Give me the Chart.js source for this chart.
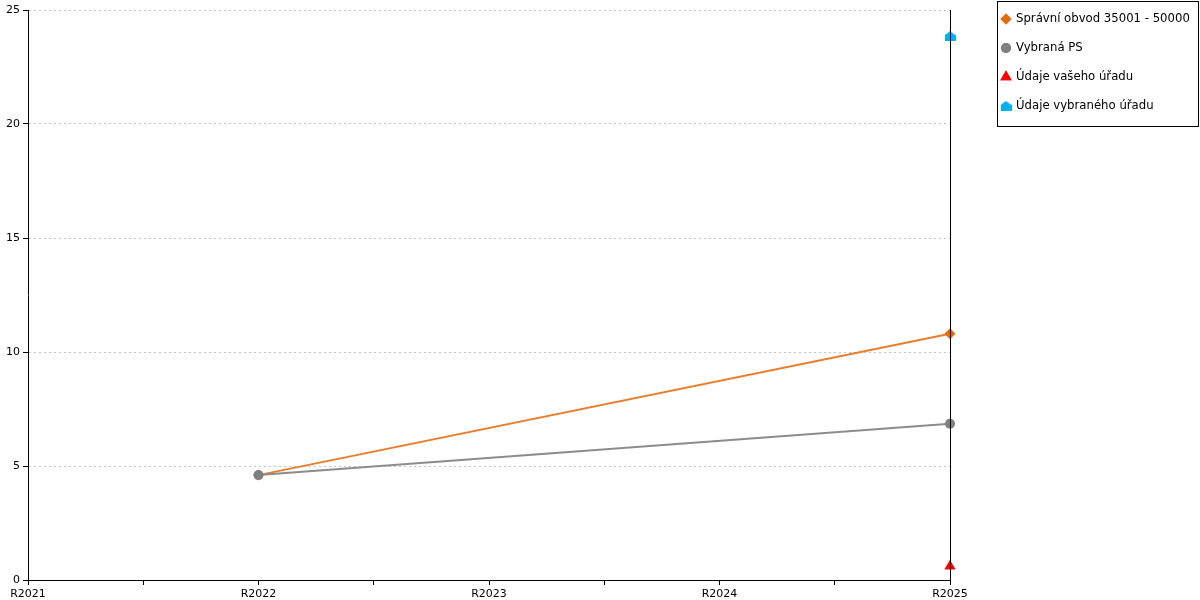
<!DOCTYPE html>
<html>
<head>
<meta charset="utf-8">
<script src="https://cdn.jsdelivr.net/npm/chart.js@4.4.1/dist/chart.umd.min.js"></script>
<style>
  html, body { margin: 0; padding: 0; background: #fff; }
  #wrap { width: 1200px; height: 600px; }
</style>
</head>
<body>
<div id="wrap"><canvas id="myChart" width="1200" height="600"></canvas></div>
<script>
const categories = ['R2021', 'R2022', 'R2023', 'R2024', 'R2025'];
const obvodValues = [null, 4.6, null, null, 10.8];
const psValues = [null, 4.6, null, null, 6.85];
const vasUradValues = [null, null, null, null, 0.6];
const vybranyUradValues = [null, null, null, null, 23.85];
const yTicks = [0, 5, 10, 15, 20, 25];

const FONT = 'DejaVu Sans';

function toPoints(values) {
    return values
        .map((v, i) => (v === null ? null : { x: i, y: v }))
        .filter(p => p !== null);
}

// blue "house" marker
function houseMarker(color) {
    const c = document.createElement('canvas');
    c.width = 11;
    c.height = 10;
    const g = c.getContext('2d');
    g.fillStyle = color;
    g.beginPath();
    g.moveTo(5.5, 0);
    g.lineTo(11, 4);
    g.lineTo(11, 10);
    g.lineTo(0, 10);
    g.lineTo(0, 4);
    g.closePath();
    g.fill();
    return c;
}
const house = houseMarker('#00B0F0');

const legendItems = [
    { label: 'Správní obvod 35001 - 50000', style: 'rectRot', color: '#E36C0A', r: 5.5 },
    { label: 'Vybraná PS', style: 'circle', color: '#808080', r: 5 },
    { label: 'Údaje vašeho úřadu', style: 'triangle', color: '#FF0000', r: 6.5 },
    { label: 'Údaje vybraného úřadu', style: house, color: '#00B0F0', r: 6 }
];

const frame = {
    id: 'frame',
    afterDatasetsDraw(chart) {
        const ctx = chart.ctx;
        const a = chart.chartArea;
        ctx.save();
        ctx.strokeStyle = '#000';
        ctx.lineWidth = 1;
        ctx.beginPath();
        ctx.moveTo(Math.round(a.right) + 0.5, a.top);
        ctx.lineTo(Math.round(a.right) + 0.5, a.bottom);
        ctx.stroke();
        ctx.restore();
    },
    afterDraw(chart) {
        const ctx = chart.ctx;
        ctx.save();
        ctx.fillStyle = '#fff';
        ctx.fillRect(997, 1, 202, 125);
        ctx.strokeStyle = '#000';
        ctx.lineWidth = 1;
        ctx.strokeRect(997.5, 1.5, 201, 125);
        ctx.font = '11.7px "' + FONT + '"';
        ctx.textBaseline = 'middle';
        legendItems.forEach((item, i) => {
            const y = 19 + i * 29;
            ctx.fillStyle = item.color;
            ctx.beginPath();
            Chart.helpers.drawPoint(ctx, {
                pointStyle: item.style,
                radius: item.r,
                borderWidth: 0,
                rotation: 0
            }, 1006, y);
            if (typeof item.style === 'string') ctx.fill();
            ctx.fillStyle = '#000';
            ctx.fillText(item.label, 1016, y);
        });
        ctx.restore();
    }
};

const ctx = document.getElementById('myChart').getContext('2d');
new Chart(ctx, {
    type: 'line',
    data: {
        datasets: [
            {
                label: legendItems[0].label,
                data: toPoints(obvodValues),
                order: 2,
                borderColor: '#EB7D2A',
                backgroundColor: '#E36C0A',
                pointBackgroundColor: '#E36C0A',
                pointBorderWidth: 0,
                borderWidth: 2,
                pointStyle: 'rectRot',
                pointRadius: 5.5,
                clip: false
            },
            {
                label: legendItems[1].label,
                data: toPoints(psValues),
                order: 1,
                borderColor: '#8C8C8C',
                backgroundColor: '#7F7F7F',
                pointBackgroundColor: '#7F7F7F',
                pointBorderWidth: 0,
                borderWidth: 2,
                pointStyle: 'circle',
                pointRadius: 5,
                clip: false
            },
            {
                label: legendItems[2].label,
                data: toPoints(vasUradValues),
                order: 0,
                showLine: false,
                backgroundColor: '#FF0000',
                pointBackgroundColor: '#FF0000',
                pointBorderWidth: 0,
                pointStyle: 'triangle',
                pointRadius: 6.5,
                clip: false
            },
            {
                label: legendItems[3].label,
                data: toPoints(vybranyUradValues),
                order: 0,
                showLine: false,
                backgroundColor: '#00B0F0',
                pointStyle: house,
                pointRadius: 6,
                clip: false
            }
        ]
    },
    options: {
        responsive: false,
        animation: false,
        spanGaps: true,
        layout: { padding: { top: 10, right: 250, left: 0, bottom: 0 } },
        plugins: {
            legend: { display: false },
            tooltip: { enabled: false }
        },
        scales: {
            x: {
                type: 'linear',
                min: 0,
                max: categories.length - 1,
                afterBuildTicks(scale) {
                    const t = [];
                    for (let v = 0; v <= categories.length - 1; v += 0.5) t.push({ value: v });
                    scale.ticks = t;
                },
                afterFit(scale) { scale.height = 20; },
                border: { color: '#000', width: 1 },
                grid: {
                    drawOnChartArea: false,
                    drawTicks: true,
                    tickLength: 5,
                    tickColor: '#000'
                },
                ticks: {
                    autoSkip: false,
                    maxRotation: 0,
                    padding: 3,
                    color: '#000',
                    font: { family: FONT, size: 11 },
                    callback: v => (Number.isInteger(v) ? categories[v] : '')
                }
            },
            y: {
                min: 0,
                max: 25,
                afterBuildTicks(scale) {
                    scale.ticks = yTicks.map(v => ({ value: v }));
                },
                afterFit(scale) { scale.width = 28; },
                border: { color: '#000', width: 1, dash: [2, 3] },
                grid: {
                    color: '#C4C4C4',
                    drawTicks: true,
                    tickLength: 5,
                    tickColor: '#000',
                    tickBorderDash: []
                },
                ticks: {
                    padding: 3,
                    color: '#000',
                    font: { family: FONT, size: 11 }
                }
            }
        }
    },
    plugins: [frame]
});
</script>
</body>
</html>
